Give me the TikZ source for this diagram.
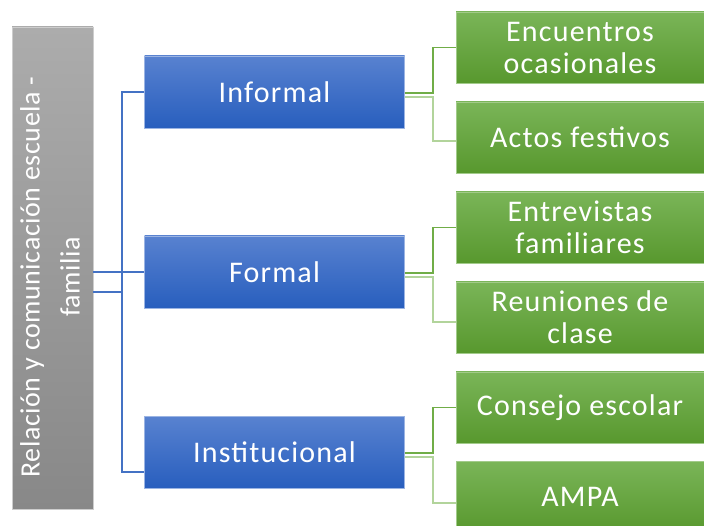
\documentclass[tikz,border=0pt]{standalone}
\usepackage{fontspec}
\setmainfont{Carlito}
\newfontfamily\boxfont[LetterSpace=4]{Carlito}
\newfontfamily\rootfont[LetterSpace=2]{Carlito}
\definecolor{bluetop}{RGB}{88,130,208}
\definecolor{bluebot}{RGB}{40,94,190}
\definecolor{greentop}{RGB}{122,181,88}
\definecolor{greenbot}{RGB}{88,152,46}
\definecolor{graytop}{RGB}{172,172,172}
\definecolor{graybot}{RGB}{136,136,136}
\definecolor{bline}{RGB}{68,114,196}
\definecolor{gdark}{RGB}{112,173,71}
\definecolor{glight}{RGB}{178,212,155}
\tikzset{
  bluebox/.style={rectangle, inner sep=0pt, top color=bluetop, bottom color=bluebot, draw=bluetop!60!white, line width=0.6pt, text=white, font=\boxfont\fontsize{30}{32}\selectfont, minimum width=260pt, minimum height=72pt, align=center},
  greenbox/.style={rectangle, inner sep=0pt, top color=greentop, bottom color=greenbot, draw=greentop!70!white, line width=0.6pt, text=white, font=\boxfont\fontsize{30}{32}\selectfont, minimum width=248pt, minimum height=71pt, align=center},
  graybox/.style={rectangle, inner sep=0pt, top color=graytop, bottom color=graybot, draw=graytop!60!white, line width=0.6pt},
  bconn/.style={draw=bline, line width=1.2pt},
  gconn/.style={draw=gdark, line width=1.5pt},
  gconnl/.style={draw=glight, line width=1.8pt},
}
\begin{document}
\begin{tikzpicture}[x=1pt,y=-1pt]
\useasboundingbox (0,0) rectangle (704,526);
% gray root
\node[graybox, minimum width=81pt, minimum height=482pt] (gray) at (52.5,268) {};
\node[rotate=90, text=white, align=center, font=\rootfont\fontsize{28}{40}\selectfont] (graytxt) at (50,277) {Relación y comunicación escuela -\\familia};
% blue
\node[bluebox] (inf) at (274.5,92) {Informal};
\node[bluebox] (form) at (274.5,272) {Formal};
\node[bluebox] (inst) at (274.5,452.5) {Institucional};
% green
\node[greenbox] (enc) at (580,47.5) {Encuentros\\ocasionales};
\node[greenbox] (act) at (580,137.5) {Actos festivos};
\node[greenbox] (ent) at (580,227.5) {Entrevistas\\familiares};
\node[greenbox] (reu) at (580,317.5) {Reuniones de\\clase};
\node[greenbox] (con) at (580,407.5) {Consejo escolar};
\node[greenbox] (amp) at (580,496.5) {AMPA};
% blue connectors
\coordinate (tr) at (122,272);
\draw[bconn] (inf.west) -| (122,472) -- (inst.west |- 0,472);
\draw[bconn] (tr) -- (form.west);
\draw[bconn] (gray.east |- 0,272) -- (tr);
\draw[bconn] (gray.east |- 0,292) -- (122,292);
% green connectors
\draw[gconn] (inf.east |- 0,93) -- (433,93) |- (enc.west);
\draw[gconnl] (inf.east |- 0,97) -- (433,97) |- (act.west |- 0,141);
\draw[gconn] (form.east |- 0,273) -- (433,273) |- (ent.west);
\draw[gconnl] (form.east |- 0,277) -- (433,277) |- (reu.west |- 0,322);
\draw[gconn] (inst.east |- 0,453) -- (433,453) |- (con.west);
\draw[gconnl] (inst.east |- 0,457) -- (433,457) |- (amp.west |- 0,503);
\end{tikzpicture}
\end{document}
